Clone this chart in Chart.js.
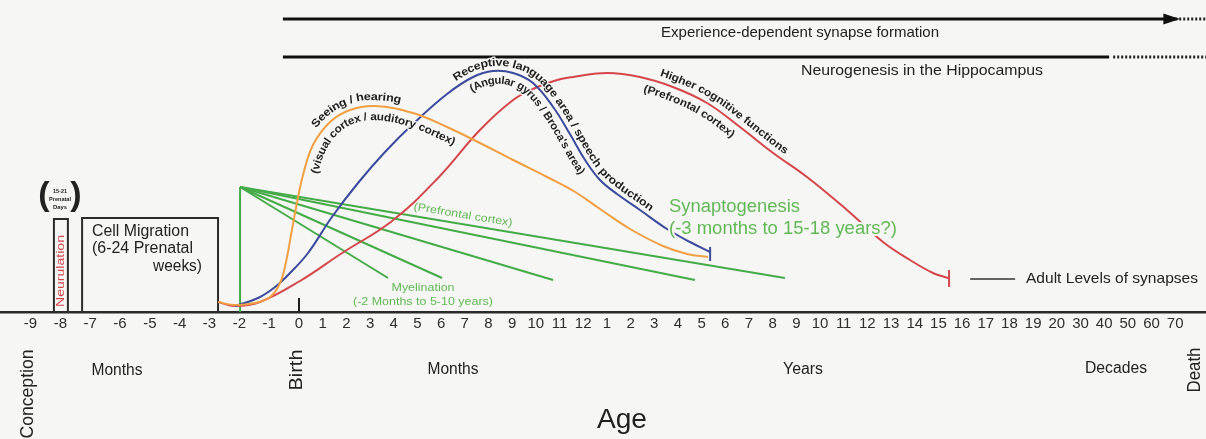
<!DOCTYPE html>
<html><head><meta charset="utf-8">
<script src="https://cdn.jsdelivr.net/npm/chart.js@4.4.1/dist/chart.umd.min.js"></script>
<style>html,body{margin:0;padding:0;background:#f6f6f4;}canvas{display:block}</style>
</head><body>
<canvas id="c" width="1206" height="439"></canvas>
<script>
// ---------- DATA (x = axis position units: birth = 0, each tick after birth = 1, prenatal month = 1.26; y = level above the age axis) ----------
const tickLabels = ['-9','-8','-7','-6','-5','-4','-3','-2','-1','0',
  '1','2','3','4','5','6','7','8','9','10','11','12',
  '1','2','3','4','5','6','7','8','9','10','11','12','13','14','15','16','17','18','19','20',
  '30','40','50','60','70'];
const PRENATAL_STEP = 1.26;

// Seeing / hearing (visual / auditory cortex)
const seeingX = [-3.42,-2.70,-1.86,-1.22,-0.80,-0.55,-0.30,-0.08,0.17,0.59,1.31,2.15,3.21,4.81,6.25,7.64,9.04,10.47,11.66,12.71,13.98,15.37,16.39,17.27];
const seeingY = [10,7,9,15,29,50,82,110,137,167,190,202,206,199,185,169,152,135,120,103,83,66,58,55];
// Receptive language area / speech production
const languageX = [-2.70,-1.73,-1.01,-0.38,0.38,1.39,2.49,3.63,4.81,6.25,7.35,8.19,9.04,9.88,10.73,11.44,12.08,12.71,13.43,14.40,15.54,16.51,17.36];
const languageY = [6,14,25,39,59,95,129,160,188,218,235,241,239,229,205,178,152,132,118,102,83,70,60];
// Higher cognitive functions (prefrontal cortex)
const cognitiveX = [-3.42,-2.70,-1.65,0.04,1.82,3.93,5.87,7.64,9.04,9.97,10.90,11.57,13.01,14.40,15.79,17.23,18.62,20.02,21.45,23.14,24.66,25.80,26.77,27.41];
const cognitiveY = [10,6,10,31,59,91,134,182,212,224,232,235,239,235,225,209,185,159,135,102,70,52,39,34];
const languageEnd = [17.36, 51, 65];   // x, tick bottom, tick top
const cognitiveEnd = [27.45, 25, 42];
// Myelination fan
const myelinOrigin = [-2.49, 125];
const myelinEndX = [3.76, 6.04, 10.73, 16.72, 20.52];
const myelinEndY = [34, 34, 32, 32, 34];
// Boxes
const neurulationX = [-10.35, -9.76], neurulationTop = 93;
const migrationX = [-9.16, -3.42], migrationTop = 94;
const birthTick = [0, 14];
// Bars at the top
const experienceX = [-0.68, 37.0, 38.3], experienceY = 293;      // start, arrow, dotted end
const neurogenesisX = [-0.68, 34.21, 34.38, 38.3], neurogenesisY = 255;
const adultLegendX = [28.34, 30.24], adultLegendY = 33;

// ---------- helpers ----------
const BG = '#f6f6f4';
const INK = '#222';
const FONT = "'Liberation Sans', Arial, sans-serif";
const ORANGE = '#f0a043', BLUE = '#3b4a9c', RED = '#d4464c', GREEN = '#45ab48', GREEN_T = '#62b857';
const tickPositions = tickLabels.map((l, i) => i < 9 ? (i - 9) * PRENATAL_STEP : i - 9);
const xy = (xs, ys) => xs.map((x, i) => ({x, y: ys[i]}));
const base = {pointRadius: 0, pointHoverRadius: 0, fill: false, tension: 0, borderWidth: 2};
const curve = {tension: 0.4, capBezierPoints: false};

const datasets = [
  {...base, ...curve, label: 'Seeing', data: xy(seeingX, seeingY), borderColor: ORANGE},
  {...base, ...curve, label: 'Language', data: xy(languageX, languageY), borderColor: BLUE},
  {...base, ...curve, label: 'Cognitive', data: xy(cognitiveX, cognitiveY), borderColor: RED},
  {...base, label: 'LangEnd', data: [{x: languageEnd[0], y: languageEnd[1]}, {x: languageEnd[0], y: languageEnd[2]}], borderColor: BLUE},
  {...base, label: 'CogEnd', data: [{x: cognitiveEnd[0], y: cognitiveEnd[1]}, {x: cognitiveEnd[0], y: cognitiveEnd[2]}], borderColor: RED},
  {...base, label: 'MyelinStem', data: [{x: myelinOrigin[0], y: 0}, {x: myelinOrigin[0], y: myelinOrigin[1]}], borderColor: GREEN},
  ...myelinEndX.map((x, i) => ({...base, label: 'Myelin' + i, data: [{x: myelinOrigin[0], y: myelinOrigin[1]}, {x, y: myelinEndY[i]}], borderColor: GREEN})),
  {...base, label: 'Neurulation', data: [{x: neurulationX[0], y: 0}, {x: neurulationX[0], y: neurulationTop}, {x: neurulationX[1], y: neurulationTop}, {x: neurulationX[1], y: 0}], borderColor: '#2b2b2b'},
  {...base, label: 'Migration', data: [{x: migrationX[0], y: 0}, {x: migrationX[0], y: migrationTop}, {x: migrationX[1], y: migrationTop}, {x: migrationX[1], y: 0}], borderColor: '#2b2b2b'},
  {...base, label: 'Birth', data: [{x: birthTick[0], y: 0}, {x: birthTick[0], y: birthTick[1]}], borderColor: '#1e1e1e', borderWidth: 2},
  {...base, label: 'Experience', data: [{x: experienceX[0], y: experienceY}, {x: experienceX[1], y: experienceY}], borderColor: '#111', borderWidth: 3},
  {...base, label: 'ExperienceDots', data: [{x: experienceX[1], y: experienceY}, {x: experienceX[2], y: experienceY}], borderColor: '#222', borderWidth: 3, borderDash: [2, 2]},
  {...base, label: 'Neurogenesis', data: [{x: neurogenesisX[0], y: neurogenesisY}, {x: neurogenesisX[1], y: neurogenesisY}], borderColor: '#111', borderWidth: 3},
  {...base, label: 'NeurogenesisDots', data: [{x: neurogenesisX[2], y: neurogenesisY}, {x: neurogenesisX[3], y: neurogenesisY}], borderColor: '#222', borderWidth: 3, borderDash: [2, 2]},
  {...base, label: 'AdultLegend', data: [{x: adultLegendX[0], y: adultLegendY}, {x: adultLegendX[1], y: adultLegendY}], borderColor: '#333', borderWidth: 1.5},
];

function fitText(ctx, text, x, y, w, o) {
  ctx.save();
  ctx.font = o.font; ctx.fillStyle = o.color || INK;
  ctx.textBaseline = 'middle';
  ctx.translate(x, y);
  if (o.rot) ctx.rotate(o.rot);
  const m = ctx.measureText(text).width;
  ctx.scale(w ? w / m : 1, 1);
  ctx.textAlign = o.align || 'center';
  if (o.halo) { ctx.strokeStyle = BG; ctx.lineWidth = o.halo; ctx.lineJoin = 'round'; ctx.strokeText(text, 0, 0); }
  ctx.fillText(text, 0, 0);
  ctx.restore();
}
function samplePath(meta) {
  const els = meta.data, out = [];
  for (let i = 0; i < els.length - 1; i++) {
    const a = els[i], b = els[i + 1];
    const c1x = a.cp2x ?? a.x, c1y = a.cp2y ?? a.y, c2x = b.cp1x ?? b.x, c2y = b.cp1y ?? b.y;
    for (let j = 0; j < 24; j++) {
      const t = j / 24, u = 1 - t;
      out.push({x: u*u*u*a.x + 3*u*u*t*c1x + 3*u*t*t*c2x + t*t*t*b.x,
                y: u*u*u*a.y + 3*u*u*t*c1y + 3*u*t*t*c2y + t*t*t*b.y});
    }
  }
  const l = els[els.length - 1]; out.push({x: l.x, y: l.y});
  return out;
}
function offsetPath(p, off) {
  return p.map((q, i) => {
    const a = p[Math.max(0, i - 3)], b = p[Math.min(p.length - 1, i + 3)];
    let dx = b.x - a.x, dy = b.y - a.y; const L = Math.hypot(dx, dy) || 1; dx /= L; dy /= L;
    return {x: q.x + off * dy, y: q.y - off * dx};
  });
}
function curvedText(ctx, meta, text, startX, off, len, o) {
  const bp = samplePath(meta);
  let i0 = bp.findIndex(q => q.x >= startX); if (i0 < 0) i0 = 0;
  const p = offsetPath(bp, off).slice(i0);
  const cum = [0];
  for (let i = 1; i < p.length; i++) cum.push(cum[i - 1] + Math.hypot(p[i].x - p[i - 1].x, p[i].y - p[i - 1].y));
  const at = s => {
    let i = 1; while (i < cum.length - 1 && cum[i] < s) i++;
    const t = Math.max(0, Math.min(1, (s - cum[i - 1]) / ((cum[i] - cum[i - 1]) || 1)));
    return {x: p[i - 1].x + (p[i].x - p[i - 1].x) * t, y: p[i - 1].y + (p[i].y - p[i - 1].y) * t};
  };
  ctx.save();
  ctx.font = o.font;
  const chars = [...text];
  const ws = chars.map(c => ctx.measureText(c).width);
  const tot = ws.reduce((a, b) => a + b, 0);
  const k = len ? len / tot : 1;
  for (const pass of ['halo', 'fill']) {
    let s = 0;
    chars.forEach((c, i) => {
      const w = ws[i] * k, m = s + w / 2;
      const q = at(m), q1 = at(m - 5), q2 = at(m + 5);
      const ang = Math.atan2(q2.y - q1.y, q2.x - q1.x);
      ctx.save();
      ctx.translate(q.x, q.y); ctx.rotate(ang); ctx.scale(k, 1);
      ctx.textAlign = 'center'; ctx.textBaseline = 'middle';
      if (pass === 'halo') { ctx.strokeStyle = BG; ctx.lineWidth = 2.5; ctx.lineJoin = 'round'; ctx.strokeText(c, 0, 0); }
      else { ctx.fillStyle = o.color || INK; ctx.fillText(c, 0, 0); }
      ctx.restore();
      s += w;
    });
  }
  ctx.restore();
}

const textPlugin = {
  id: 'texts',
  afterDatasetsDraw(chart) {
    const ctx = chart.ctx, xs = chart.scales.x, ys = chart.scales.y;
    // arrow head
    const tipX = xs.getPixelForValue(experienceX[2] - 1.1), baseX = xs.getPixelForValue(experienceX[1] - 0.5), ay = ys.getPixelForValue(experienceY);
    ctx.save(); ctx.fillStyle = '#111'; ctx.beginPath();
    ctx.moveTo(tipX, ay); ctx.lineTo(baseX, ay - 5.5); ctx.lineTo(baseX, ay + 5.5); ctx.closePath(); ctx.fill(); ctx.restore();

    const F = (s, b) => (b ? 'bold ' : '') + s + 'px ' + FONT;
    // curved labels
    const mO = chart.getDatasetMeta(0), mB = chart.getDatasetMeta(1), mR = chart.getDatasetMeta(2);
    const cf = F(11, true);
    curvedText(ctx, mO, 'Seeing / hearing', 321, 9, 97, {font: cf});
    curvedText(ctx, mO, '(visual cortex / auditory cortex)', 304, -11, 175, {font: cf});
    curvedText(ctx, mB, 'Receptive language area / speech production', 458, 8, 268, {font: cf});
    curvedText(ctx, mB, "(Angular gyrus / Broca's area)", 465, -10, 160, {font: cf});
    curvedText(ctx, mR, 'Higher cognitive functions', 657, 9, 150, {font: cf});
    curvedText(ctx, mR, '(Prefrontal cortex)', 645, -11, 102, {font: cf});

    // top bars
    fitText(ctx, 'Experience-dependent synapse formation', 800, 33, 278, {font: F(15)});
    fitText(ctx, 'Neurogenesis in the Hippocampus', 922, 71, 242, {font: F(15)});
    // boxes
    fitText(ctx, 'Cell Migration', 92, 232, 97, {font: F(16), align: 'left'});
    fitText(ctx, '(6-24 Prenatal', 92, 249, 101, {font: F(16), align: 'left'});
    fitText(ctx, 'weeks)', 202, 267, 49, {font: F(16), align: 'right'});
    fitText(ctx, 'Neurulation', 61, 271, 72, {font: F(10), color: RED, rot: -Math.PI / 2});
    fitText(ctx, '(', 44, 196, 0, {font: F(34, true)});
    fitText(ctx, ')', 76, 196, 0, {font: F(34, true)});
    fitText(ctx, '15-21', 60, 191, 14, {font: F(6, true)});
    fitText(ctx, 'Prenatal', 60, 199, 22, {font: F(6, true)});
    fitText(ctx, 'Days', 60, 207, 14, {font: F(6, true)});
    // myelination
    const o = {x: xs.getPixelForValue(myelinOrigin[0]), y: ys.getPixelForValue(myelinOrigin[1])};
    const e = {x: xs.getPixelForValue(myelinEndX[4]), y: ys.getPixelForValue(myelinEndY[4])};
    fitText(ctx, '(Prefrontal cortex)', 463, 215, 100, {font: F(11), color: GREEN_T, rot: Math.atan2(e.y - o.y, e.x - o.x)});
    fitText(ctx, 'Myelination', 423, 288, 63, {font: F(11), color: GREEN_T});
    fitText(ctx, '(-2 Months to 5-10 years)', 423, 302, 140, {font: F(11), color: GREEN_T});
    fitText(ctx, 'Synaptogenesis', 669, 207, 131, {font: F(18), color: GREEN_T, align: 'left', halo: 4});
    fitText(ctx, '(-3 months to 15-18 years?)', 669, 229, 228, {font: F(18), color: GREEN_T, align: 'left', halo: 4});
    fitText(ctx, 'Adult Levels of synapses', 1026, 279, 172, {font: F(15), align: 'left'});
    // below axis
    fitText(ctx, 'Conception', 28, 394, 89, {font: F(18), rot: -Math.PI / 2});
    fitText(ctx, 'Months', 117, 371, 51, {font: F(16)});
    fitText(ctx, 'Birth', 297, 370, 41, {font: F(18), rot: -Math.PI / 2});
    fitText(ctx, 'Months', 453, 370, 51, {font: F(16)});
    fitText(ctx, 'Years', 803, 370, 40, {font: F(16)});
    fitText(ctx, 'Decades', 1116, 369, 62, {font: F(16)});
    fitText(ctx, 'Death', 1195, 370, 45, {font: F(18), rot: -Math.PI / 2});
    fitText(ctx, 'Age', 622, 420, 50, {font: F(28)});
  }
};

new Chart(document.getElementById('c'), {
  type: 'line',
  data: {datasets},
  options: {
    responsive: false, animation: false, events: [],
    layout: {padding: 0},
    plugins: {legend: {display: false}, tooltip: {enabled: false}},
    scales: {
      x: {
        type: 'linear', min: -12.627, max: 38.30,
        grid: {display: false, drawTicks: false},
        border: {display: true, color: '#2a2a2a', width: 2.5},
        afterBuildTicks: s => { s.ticks = tickPositions.map(v => ({value: v})); },
        afterFit: s => { s.height = 439 - 312; },
        ticks: {autoSkip: false, maxRotation: 0, minRotation: 0, padding: 3, color: '#2e2e2e',
                font: {size: 15, family: FONT}, callback: (v, i) => tickLabels[i]}
      },
      y: {type: 'linear', display: false, min: 0, max: 312}
    }
  },
  plugins: [textPlugin]
});
</script>
</body></html>
